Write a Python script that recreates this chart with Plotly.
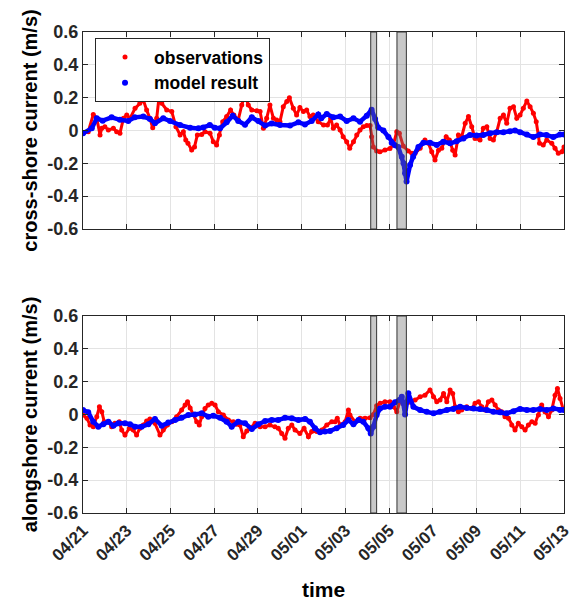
import pandas as pd
import plotly.graph_objects as go

START = pd.Timestamp("2018-04-21")
N_DAYS = 22

# ---- cross-shore current (m/s) ----
cross_obs_day = [
    0, 0.24, 0.47, 0.63, 0.78, 0.86, 1.0, 1.16, 1.39, 1.54,
    1.69, 1.85, 2.0, 2.15, 2.38, 2.6, 2.76, 2.91, 3.06, 3.19,
    3.37, 3.49, 3.6, 3.83, 4.06, 4.25, 4.44, 4.59, 4.7, 4.8,
    4.97, 5.1, 5.23, 5.43, 5.58, 5.81, 5.96, 6.11, 6.24, 6.39,
    6.57, 6.75, 6.9, 7.1, 7.26, 7.41, 7.56, 7.72, 7.95, 8.1,
    8.25, 8.4, 8.55, 8.71, 8.86, 9.01, 9.16, 9.32, 9.44, 9.62,
    9.77, 9.92, 10.08, 10.23, 10.38, 10.53, 10.76, 11.0, 11.18, 11.33,
    11.45, 11.6, 11.76, 11.9, 12.06, 12.2, 12.37, 12.52, 12.67, 12.82,
    12.98, 13.13, 13.2, 13.28, 13.43, 13.58, 13.81, 14.04, 14.2, 14.35,
    14.47, 14.65, 14.88, 15.04, 15.19, 15.42, 15.64, 15.8, 15.95, 16.1,
    16.26, 16.41, 16.61, 16.76, 16.91, 17.02, 17.17, 17.32, 17.48, 17.63,
    17.78, 17.93, 18.16, 18.31, 18.47, 18.62, 18.77, 18.92, 19.08, 19.23,
    19.38, 19.53, 19.69, 19.84, 19.99, 20.14, 20.3, 20.45, 20.6, 20.73,
    20.88, 21.05, 21.21, 21.44, 21.59, 21.74, 21.9, 22.0,
]
cross_obs = [
    -0.017, -0.007, 0.098, 0.074, -0.027, 0.013, 0.023, 0.003, 0.013, -0.007,
    -0.017, 0.074, 0.094, 0.074, 0.135, 0.166, 0.186, 0.125, 0.074, 0.017,
    0.074, 0.216, 0.166, 0.125, 0.115, 0.023, -0.027, -0.007, -0.058, -0.078,
    -0.119, -0.1, -0.027, -0.024, -0.007, -0.017, -0.068, -0.088, -0.027, 0.054,
    0.085, 0.125, 0.094, 0.064, 0.155, 0.22, 0.155, 0.125, 0.12, 0.115,
    0.013, 0.074, 0.155, 0.074, 0.064, 0.054, 0.145, 0.176, 0.2, 0.135,
    0.094, 0.14, 0.115, 0.125, 0.085, 0.094, 0.054, 0.033, 0.033, 0.074,
    0.013, 0.033, 0.003, -0.038, -0.068, -0.108, -0.068, -0.027, 0.003, 0.023,
    0.03, 0.03, -0.038, -0.1, -0.125, -0.13, -0.119, -0.11, -0.085, -0.007,
    -0.017, -0.095, -0.125, -0.139, -0.139, -0.108, -0.058, -0.078, -0.13, -0.18,
    -0.12, -0.108, -0.038, -0.058, -0.12, -0.149, -0.027, -0.038, 0.044, 0.085,
    0.023, -0.048, -0.058, 0.013, 0.023, -0.048, -0.058, -0.01, 0.074, 0.094,
    0.044, 0.135, 0.145, 0.074, 0.094, 0.135, 0.18, 0.145, 0.105, 0.054,
    -0.078, -0.088, -0.058, -0.078, -0.108, -0.139, -0.13, -0.1,
]
cross_model_day = [
    0, 0.4, 0.63, 0.9, 1.31, 1.69, 2.07, 2.37, 2.76, 3.06,
    3.29, 3.67, 3.98, 4.44, 4.9, 5.28, 5.5, 5.8, 6.03, 6.27,
    6.57, 6.85, 7.1, 7.41, 7.72, 8.02, 8.33, 8.63, 9.01, 9.47,
    9.85, 10.15, 10.46, 10.76, 10.9, 11.15, 11.45, 11.76, 12.06, 12.37,
    12.67, 12.98, 13.2, 13.36, 13.5, 13.74, 13.97, 14.12, 14.27, 14.42,
    14.58, 14.66, 14.73, 14.8, 14.96, 15.1, 15.34, 15.57, 15.87, 16.18,
    16.48, 16.79, 17.09, 17.4, 17.7, 18.0, 18.31, 18.62, 18.92, 19.23,
    19.53, 19.76, 19.99, 20.3, 20.6, 20.9, 21.2, 21.51, 21.82, 22.0,
]
cross_model = [
    -0.017, 0.013, 0.074, 0.06, 0.08, 0.065, 0.058, 0.08, 0.085, 0.07,
    0.044, 0.074, 0.058, 0.033, 0.017, 0.013, 0.019, 0.033, 0.017, 0.013,
    0.05, 0.09, 0.058, 0.035, 0.08, 0.058, 0.03, 0.043, 0.033, 0.03,
    0.05, 0.037, 0.058, 0.098, 0.074, 0.1, 0.08, 0.085, 0.058, 0.074,
    0.054, 0.09, 0.127, 0.07, 0.018, 0.0, -0.04, -0.075, -0.09, -0.1,
    -0.16, -0.2, -0.26, -0.31, -0.21, -0.16, -0.1, -0.075, -0.075, -0.088,
    -0.068, -0.078, -0.066, -0.048, -0.027, -0.03, -0.027, -0.017, -0.01, -0.01,
    -0.005, 0.0, -0.01, -0.025, -0.04, -0.025, -0.027, -0.04, -0.025, -0.025,
]

# ---- alongshore current (m/s) ----
along_obs_day = [
    0, 0.18, 0.32, 0.47, 0.63, 0.75, 0.86, 0.97, 1.16, 1.31,
    1.46, 1.66, 1.77, 1.92, 2.12, 2.3, 2.45, 2.6, 2.76, 2.91,
    3.06, 3.29, 3.52, 3.67, 3.86, 4.06, 4.28, 4.51, 4.67, 4.78,
    4.9, 5.05, 5.2, 5.32, 5.43, 5.58, 5.73, 5.89, 6.04, 6.19,
    6.42, 6.65, 6.88, 7.03, 7.18, 7.33, 7.49, 7.64, 7.87, 8.1,
    8.33, 8.55, 8.78, 8.93, 9.09, 9.24, 9.39, 9.55, 9.7, 9.92,
    10.11, 10.31, 10.46, 10.69, 10.92, 11.15, 11.38, 11.53, 11.63, 11.76,
    11.99, 12.14, 12.21, 12.44, 12.67, 12.9, 13.13, 13.28, 13.43, 13.59,
    13.81, 14.04, 14.2, 14.35, 14.5, 14.73, 14.9, 15.19, 15.42, 15.64,
    15.87, 16.03, 16.18, 16.33, 16.49, 16.64, 16.79, 16.91, 17.02, 17.17,
    17.32, 17.55, 17.78, 17.93, 18.09, 18.24, 18.39, 18.54, 18.7, 18.85,
    19.0, 19.15, 19.3, 19.46, 19.61, 19.76, 19.91, 20.07, 20.22, 20.37,
    20.53, 20.68, 20.83, 20.98, 21.13, 21.29, 21.44, 21.59, 21.7, 21.82,
    21.97,
]
along_obs = [
    -0.003, -0.023, -0.064, -0.074, -0.013, 0.047, 0.017, -0.044, -0.044, -0.074,
    -0.054, -0.044, -0.095, -0.125, -0.084, -0.095, -0.125, -0.084, -0.064, -0.04,
    -0.027, -0.054, -0.125, -0.095, -0.064, -0.044, -0.013, 0.027, 0.058, 0.078,
    0.04, 0.0, -0.044, -0.064, -0.013, 0.037, 0.058, 0.068, 0.058, 0.017,
    -0.003, -0.034, -0.044, -0.06, -0.064, -0.135, -0.1, -0.084, -0.054, -0.074,
    -0.074, -0.064, -0.074, -0.084, -0.115, -0.145, -0.084, -0.064, -0.095, -0.115,
    -0.084, -0.135, -0.104, -0.104, -0.095, -0.064, -0.044, -0.044, -0.023, -0.064,
    -0.044, 0.027, -0.003, -0.044, -0.023, -0.023, -0.02, 0.0, 0.054, 0.068,
    0.078, 0.078, 0.047, 0.017, 0.08, 0.07, 0.075, 0.088, 0.108, 0.118,
    0.149, 0.108, 0.078, 0.088, 0.128, 0.078, 0.149, 0.128, 0.047, 0.017,
    0.027, 0.047, 0.037, 0.068, 0.078, 0.047, 0.027, 0.078, 0.088, 0.058,
    0.027, 0.017, -0.013, -0.023, -0.064, -0.095, -0.054, -0.074, -0.095, -0.064,
    -0.044, -0.054, -0.003, 0.058, 0.017, -0.013, 0.027, 0.118, 0.159, 0.098,
    0.027,
]
along_model_day = [
    0, 0.24, 0.47, 0.7, 0.93, 1.16, 1.39, 1.62, 1.92, 2.15,
    2.38, 2.68, 2.99, 3.29, 3.6, 3.9, 4.21, 4.51, 4.82, 5.12,
    5.43, 5.73, 5.96, 6.27, 6.57, 6.8, 7.1, 7.41, 7.72, 8.02,
    8.33, 8.63, 8.93, 9.24, 9.55, 9.85, 10.16, 10.38, 10.61, 10.84,
    11.07, 11.3, 11.6, 11.9, 12.14, 12.37, 12.6, 12.82, 13.05, 13.16,
    13.28, 13.43, 13.59, 13.81, 14.04, 14.27, 14.47, 14.58, 14.65, 14.73,
    14.88, 15.11, 15.42, 15.72, 16.03, 16.33, 16.64, 16.94, 17.25, 17.55,
    17.86, 18.16, 18.47, 18.77, 19.08, 19.38, 19.69, 19.99, 20.3, 20.6,
    20.9, 21.21, 21.51, 21.82, 22.0,
]
along_model = [
    0.027, 0.013, -0.044, -0.074, -0.06, -0.044, -0.068, -0.054, -0.054, -0.06,
    -0.074, -0.074, -0.06, -0.027, -0.068, -0.048, -0.034, -0.02, -0.003, 0.0,
    0.007, -0.013, -0.007, -0.02, -0.044, -0.074, -0.044, -0.054, -0.088, -0.06,
    -0.04, -0.034, -0.034, -0.02, -0.023, -0.034, -0.027, -0.044, -0.084, -0.108,
    -0.104, -0.1, -0.084, -0.064, -0.034, -0.06, -0.034, -0.044, -0.084, -0.115,
    -0.074, -0.003, 0.037, 0.047, 0.047, 0.074, 0.088, 0.108, 0.068, 0.0,
    0.13, 0.047, 0.027, 0.017, 0.007, 0.017, 0.027, 0.034, 0.047, 0.04,
    0.037, 0.034, 0.027, 0.017, 0.013, 0.007, 0.02, 0.034, 0.027, 0.027,
    0.034, 0.027, 0.037, 0.027, 0.027,
]

# shaded periods (days after 04/21)
shade_start_day = [13.16, 14.36]
shade_end_day = [13.43, 14.79]

ytick_vals = [-0.6, -0.4, -0.2, 0, 0.2, 0.4, 0.6]
ytick_text = ["-0.6", "-0.4", "-0.2", "0", "0.2", "0.4", "0.6"]

OBS_COLOR = "#ff0000"
MODEL_COLOR = "#0000ff"
AXIS_COLOR = "#262626"
GRID_COLOR = "#e3e3e3"
FONT = "Liberation Sans"


def to_time(days):
    return START + pd.to_timedelta(days, unit="D")


fig = go.Figure()


def add_series(days, vals, color, name, xa, ya, legend, lw, ms):
    t = to_time(days)
    fig.add_trace(go.Scatter(x=t, y=vals, mode="lines", xaxis=xa, yaxis=ya,
                             line=dict(color=color, width=lw),
                             showlegend=False, hoverinfo="skip"))
    fig.add_trace(go.Scatter(x=t, y=vals, mode="markers", xaxis=xa, yaxis=ya,
                             marker=dict(color=color, size=ms), name=name,
                             showlegend=legend))


add_series(cross_obs_day, cross_obs, OBS_COLOR, "observations", "x", "y", True, 3, 5)
add_series(cross_model_day, cross_model, MODEL_COLOR, "model result", "x", "y", True, 4.5, 6)
add_series(along_obs_day, along_obs, OBS_COLOR, "observations", "x2", "y2", False, 3, 5)
add_series(along_model_day, along_model, MODEL_COLOR, "model result", "x2", "y2", False, 4.5, 6)

shapes = []
for xr, yr in (("x", "y domain"), ("x2", "y2 domain")):
    for s, e in zip(shade_start_day, shade_end_day):
        shapes.append(dict(type="rect", xref=xr, yref=yr,
                           x0=to_time(s), x1=to_time(e), y0=0, y1=1,
                           fillcolor="rgba(110,110,110,0.38)",
                           line=dict(color="#333333", width=1), layer="above"))

tick_font = dict(family=FONT, size=18, color="#262626", weight="bold")
xtick_font = dict(family=FONT, size=17, color="#262626", weight="bold")
title_font = dict(family=FONT, size=20, color="#000000", weight="bold")

common_x = dict(range=[START, to_time(N_DAYS)], tick0=START, dtick=2 * 86400000,
                showgrid=True, gridcolor=GRID_COLOR, gridwidth=1,
                showline=True, linecolor=AXIS_COLOR, linewidth=1, mirror="ticks",
                ticks="inside", ticklen=5, tickcolor=AXIS_COLOR, zeroline=False,
                automargin=False)
common_y = dict(range=[-0.6, 0.6], tickvals=ytick_vals, ticktext=ytick_text,
                showgrid=True, gridcolor=GRID_COLOR, gridwidth=1,
                showline=True, linecolor=AXIS_COLOR, linewidth=1, mirror="ticks",
                ticks="inside", ticklen=5, tickcolor=AXIS_COLOR, zeroline=False,
                tickfont=tick_font, automargin=False)

top_h = 229 - 32
total_h = 513 - 32

fig.update_layout(
    width=576, height=604,
    margin=dict(l=83, r=12, t=32, b=91),
    paper_bgcolor="white", plot_bgcolor="white",
    font=dict(family=FONT, weight="bold"),
    xaxis=dict(common_x, anchor="y", showticklabels=False),
    xaxis2=dict(common_x, anchor="y2", matches="x", tickformat="%m/%d",
                tickangle=-45, tickfont=xtick_font,
                title=dict(text="time", font=dict(family=FONT, size=21, color="#000", weight="bold"),
                           standoff=18)),
    yaxis=dict(common_y, anchor="x", domain=[1 - top_h / total_h, 1],
               title=dict(text="cross-shore current (m/s)", font=title_font, standoff=4)),
    yaxis2=dict(common_y, anchor="x2", domain=[0, top_h / total_h],
                title=dict(text="alongshore current (m/s)", font=title_font, standoff=4)),
    legend=dict(x=0.025, y=0.9875, xanchor="left", yanchor="top",
                bgcolor="white", bordercolor=AXIS_COLOR, borderwidth=1,
                font=dict(family=FONT, size=17.5, color="#000", weight="bold"),
                itemwidth=48, tracegroupgap=0),
    shapes=shapes,
    showlegend=True,
)

fig.write_html("out.html")
